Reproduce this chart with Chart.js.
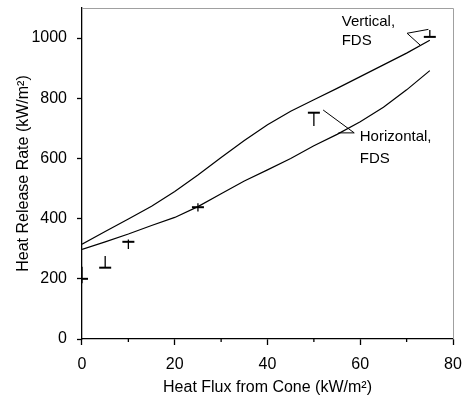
<!DOCTYPE html>
<html>
<head>
<meta charset="utf-8">
<script src="https://cdn.jsdelivr.net/npm/chart.js@4.4.1/dist/chart.umd.min.js"></script>
<style>
  html, body { margin: 0; padding: 0; background: #fff; }
  #wrap { width: 464px; height: 398px; }
</style>
</head>
<body>
<div id="wrap"><canvas id="hrr"></canvas></div>
<script>
// FDS curves
const fluxFds = [0, 5, 10, 15, 20, 25, 30, 35, 40, 45, 50, 55, 60, 65, 70, 75];
const hrrVertical = [315, 357, 399, 441, 490, 545, 603, 660, 712, 757, 795, 833, 872, 911, 950, 993];
const hrrHorizontal = [298, 323, 349, 377, 404, 440, 483, 525, 562, 600, 642, 680, 722, 770, 828, 892];

// cone calorimeter measurements (mean + range)
const fluxExp = [0, 5, 10, 25, 50, 75];
const hrrExpMean = [200, 237, 323, 438, 752, 1004];
const hrrExpLow = [185, 237, 299, 424, 708, 1004];
const hrrExpHigh = [240, 276, 331, 451, 752, 1027];

const xTicks = [0, 20, 40, 60, 80];
const xMinorTicks = [10, 30, 50, 70];
const yTicks = [0, 200, 400, 600, 800, 1000];

const FONT = '"Liberation Sans", Arial, sans-serif';

const toXY = (xs, ys) => xs.map((x, i) => ({ x: x, y: ys[i] }));

// extras: frame, minor ticks, error bars, labels with leader lines
const extras = {
  id: 'extras',
  afterDatasetsDraw(chart) {
    const ctx = chart.ctx;
    const a = chart.chartArea;
    const sx = chart.scales.x, sy = chart.scales.y;
    const px = v => sx.getPixelForValue(v);
    const py = v => sy.getPixelForValue(v);
    ctx.save();

    // grey top / right border
    ctx.strokeStyle = '#a0a0a0';
    ctx.lineWidth = 1;
    ctx.beginPath();
    ctx.moveTo(a.left, a.top + 0.5);
    ctx.lineTo(a.right + 0.5, a.top + 0.5);
    ctx.lineTo(a.right + 0.5, a.bottom);
    ctx.stroke();

    // minor x ticks
    ctx.strokeStyle = '#000';
    ctx.lineWidth = 1.3;
    ctx.beginPath();
    xMinorTicks.forEach(v => {
      ctx.moveTo(px(v), a.bottom);
      ctx.lineTo(px(v), a.bottom + 3);
    });
    ctx.stroke();

    // error bars
    ctx.lineWidth = 1.3;
    ctx.beginPath();
    fluxExp.forEach((v, i) => {
      ctx.moveTo(px(v), py(hrrExpLow[i]));
      ctx.lineTo(px(v), py(hrrExpHigh[i]));
    });
    ctx.stroke();

    // leader lines
    ctx.lineWidth = 1;
    ctx.beginPath();
    ctx.moveTo(px(74.7), py(1029));
    ctx.lineTo(px(70.1), py(1016));
    ctx.lineTo(px(72.9), py(977));
    ctx.moveTo(px(52.0), py(761));
    ctx.lineTo(px(58.7), py(685));
    ctx.lineTo(px(55.3), py(685));
    ctx.stroke();

    // labels
    ctx.fillStyle = '#000';
    ctx.font = '15px ' + FONT;
    ctx.textAlign = 'left';
    ctx.textBaseline = 'alphabetic';
    ctx.fillText('Vertical,', px(56.0), py(1040));
    ctx.fillText('FDS', px(56.0), py(977));
    ctx.fillText('Horizontal,', px(59.9), py(658));
    ctx.fillText('FDS', px(59.9), py(585));
    ctx.restore();
  }
};

new Chart(document.getElementById('hrr').getContext('2d'), {
  type: 'scatter',
  data: {
    datasets: [{
      label: 'Vertical, FDS',
      data: toXY(fluxFds, hrrVertical),
      showLine: true,
      borderColor: '#000',
      borderWidth: 1.2,
      pointRadius: 0,
      tension: 0
    }, {
      label: 'Horizontal, FDS',
      data: toXY(fluxFds, hrrHorizontal),
      showLine: true,
      borderColor: '#000',
      borderWidth: 1.2,
      pointRadius: 0,
      tension: 0
    }, {
      label: 'Experiment',
      data: toXY(fluxExp, hrrExpMean),
      showLine: false,
      pointStyle: 'line',
      pointRadius: 6,
      borderColor: '#000',
      borderWidth: 2
    }]
  },
  options: {
    responsive: true,
    maintainAspectRatio: false,
    animation: false,
    layout: { padding: { left: 11.4, right: 11, top: 7, bottom: 0 } },
    plugins: { legend: { display: false }, tooltip: { enabled: false } },
    scales: {
      x: {
        type: 'linear',
        min: 0,
        max: 80,
        afterBuildTicks: s => { s.ticks = xTicks.map(v => ({ value: v })); },
        // chart.js counts tick padding twice; drop the extra one
        afterFit: s => { s.paddingLeft = 0; s.paddingRight = 0; s.height -= s.options.ticks.padding; },
        border: { color: '#000', width: 1.3 },
        grid: { drawOnChartArea: false, tickLength: 6, color: '#000', tickWidth: 1.3 },
        ticks: {
          color: '#000',
          font: { family: FONT, size: 16, lineHeight: 1 },
          padding: 12,
          maxRotation: 0,
          callback: v => String(v)
        },
        title: {
          display: true,
          text: 'Heat Flux from Cone (kW/m²)',
          color: '#000',
          font: { family: FONT, size: 16, lineHeight: 1 },
          padding: { top: 6.5, bottom: 2.5 }
        }
      },
      y: {
        type: 'linear',
        min: 0,
        max: 1100,
        afterBuildTicks: s => { s.ticks = yTicks.map(v => ({ value: v })); },
        afterFit: s => { s.paddingTop = 0; s.paddingBottom = 0; s.width -= s.options.ticks.padding; },
        border: { color: '#000', width: 1.3 },
        grid: { drawOnChartArea: false, tickLength: 5, color: '#000', tickWidth: 1.3 },
        ticks: {
          color: '#000',
          font: { family: FONT, size: 16, lineHeight: 1 },
          padding: 10,
          callback: v => String(v)
        },
        title: {
          display: true,
          text: 'Heat Release Rate (kW/m²)',
          color: '#000',
          font: { family: FONT, size: 16, lineHeight: 1 },
          padding: { top: 4, bottom: 0 }
        }
      }
    }
  },
  plugins: [extras]
});
</script>
</body>
</html>
